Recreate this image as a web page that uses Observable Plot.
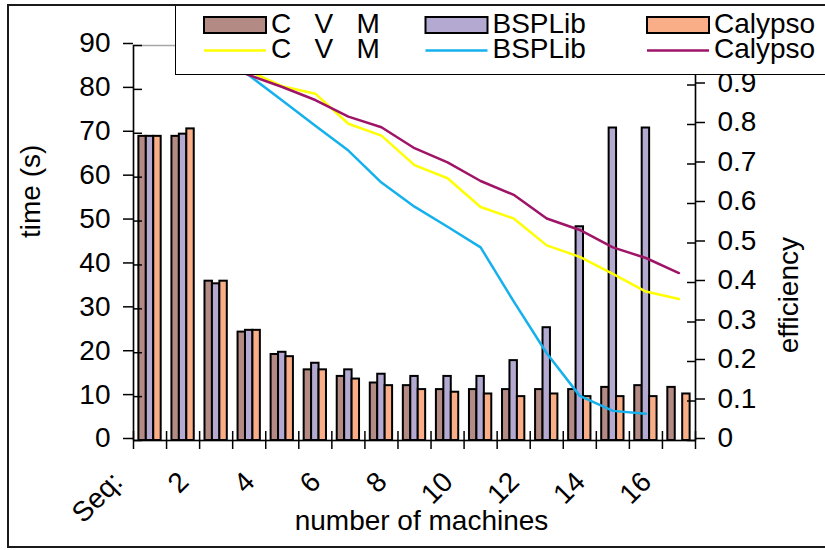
<!DOCTYPE html>
<html><head><meta charset="utf-8">
<script src="https://cdn.jsdelivr.net/npm/d3@7"></script>
<script src="https://cdn.jsdelivr.net/npm/@observablehq/plot@0.6"></script>
<style>
body{margin:0;background:#fff;font-family:"Liberation Sans",Arial,sans-serif}
#wrap{position:relative;width:825px;height:550px;overflow:hidden}
#chart{position:absolute;left:0;top:0}
#legend{position:absolute;left:175px;top:5px;width:700px;height:69px;background:#fff;border-left:1px solid #000;border-bottom:1px solid #000}
#frame{position:absolute;left:7px;top:4px;width:900px;height:540px;border:2px solid #1a1a1a;pointer-events:none}
</style></head><body>
<div id="wrap"><div id="chart"></div><div id="legend"></div><div id="frame"></div></div>
<script>
// ---- data ----
const categories = ["Seq:", "1", "2", "3", "4", "5", "6", "7", "8", "9", "10", "11", "12", "13", "14", "15", "16"];
const shownLabels = ["Seq:", "2", "4", "6", "8", "10", "12", "14", "16"];
const seriesNames = ["C   V   M", "BSPLib", "Calypso"];
const timeCVM = [69.3, 69.3, 36.3, 24.7, 19.6, 16.1, 14.6, 13.1, 12.5, 11.6, 11.6, 11.6, 11.6, 11.6, 12.1, 12.5, 12.1];
const timeBSP = [69.3, 69.8, 35.7, 25.1, 20.1, 17.6, 16.1, 15.1, 14.6, 14.6, 14.6, 18.2, 25.7, 48.7, 71.2, 71.2, null];
const timeCal = [69.3, 71.0, 36.3, 25.1, 19.1, 16.1, 14.0, 12.5, 11.6, 11.0, 10.6, 10.0, 10.6, 10.0, 10.0, 10.0, 10.6];
const effCVM = [null, 1.0, 0.955, 0.935, 0.897, 0.878, 0.802, 0.772, 0.697, 0.664, 0.591, 0.562, 0.494, 0.465, 0.422, 0.377, 0.358];
const effBSP = [null, 0.99, 0.97, 0.924, 0.861, 0.797, 0.734, 0.653, 0.592, 0.541, 0.489, 0.352, 0.221, 0.113, 0.075, 0.068, null];
const effCal = [null, 0.976, 0.955, 0.925, 0.895, 0.862, 0.820, 0.793, 0.740, 0.704, 0.657, 0.622, 0.562, 0.533, 0.489, 0.462, 0.424];
const timeTicks = [0, 10, 20, 30, 40, 50, 60, 70, 80, 90];
const effTicks = [0, 0.1, 0.2, 0.3, 0.4, 0.5, 0.6, 0.7, 0.8, 0.9];
const effTickLabels = ["0", "0.1", "0.2", "0.3", "0.4", "0.5", "0.6", "0.7", "0.8", "0.9"];
const yTitle = "time (s)";
const y2Title = "efficiency";
const xTitle = "number of machines";

// ---- styles ----
const barColors = ["#b48a84", "#b3a9d1", "#f9ae88"];
const lineColors = ["#ffff00", "#15b1ec", "#9e1467"];
const FONT = "Liberation Sans, Arial, sans-serif";
const FS = 28;
const yMax = 90, effMax = 1;
const bw = 0.225;

const times = [timeCVM, timeBSP, timeCal];
const effs = [effCVM, effBSP, effCal];
const effScaled = effTicks.map(v => v * yMax / effMax);
const effLabelMap = new Map(effScaled.map((v, k) => [v, effTickLabels[k]]));

const barMarks = times.map((arr, s) => {
  const rows = arr.map((v, i) => ({i, v})).filter(d => d.v != null);
  return Plot.rect(rows, {
    x1: d => d.i + 0.5 + (s - 1.5) * bw,
    x2: d => d.i + 0.5 + (s - 0.5) * bw,
    y1: d => 0, y2: "v",
    fill: barColors[s], stroke: "#000", strokeWidth: 2
  });
});
const lineMarks = effs.map((arr, s) => {
  const rows = arr.map((e, i) => ({i, e})).filter(d => d.e != null);
  return Plot.line(rows, {x: d => d.i + 0.5, y: d => d.e * yMax / effMax, stroke: lineColors[s], strokeWidth: 2.5});
});
const labelRows = categories.map((c, i) => ({i, c})).filter(d => shownLabels.includes(d.c));
const xTicks = d3.range(categories.length + 1);

const chart = Plot.plot({
  width: 825, height: 550,
  marginLeft: 133, marginRight: 130, marginTop: 45, marginBottom: 110,
  style: {fontFamily: FONT, fontSize: FS + "px", color: "#000", background: "transparent", overflow: "visible"},
  x: {type: "linear", domain: [0, categories.length], axis: null},
  y: {domain: [0, yMax], axis: null},
  marks: [
    Plot.frame({stroke: "#a6a6a6", strokeWidth: 1.5}),
    ...barMarks,
    ...lineMarks,
    Plot.ruleX([0, categories.length], {stroke: "#000", strokeWidth: 1.5}),
    Plot.ruleY([0], {stroke: "#000", strokeWidth: 1.5}),
    // left axis
    Plot.axisY(timeTicks, {anchor: "left", tickSize: 10, tickPadding: 13, fontSize: FS, dy: -2, strokeWidth: 1.5, label: null}),
    Plot.axisY(timeTicks, {anchor: "left", tickSize: 9, dx: 9, fill: "none", strokeWidth: 1.5, label: null}),
    // right axis
    Plot.axisY(effScaled, {anchor: "right", tickSize: 9, tickPadding: 13, fontSize: FS, dy: -2, strokeWidth: 1.5, label: null, tickFormat: d => effLabelMap.get(d)}),
    Plot.axisY(effScaled, {anchor: "right", tickSize: 9, dx: -9, fill: "none", strokeWidth: 1.5, label: null}),
    // x ticks
    Plot.axisX(xTicks, {anchor: "bottom", tickSize: 9, fill: "none", strokeWidth: 1.5, label: null}),
    Plot.axisX(xTicks, {anchor: "bottom", tickSize: 9, dy: -9, fill: "none", strokeWidth: 1.5, label: null}),
    // x labels
    Plot.text(labelRows, {x: d => d.i + 0.5, y: d => 0, text: "c", rotate: -45, textAnchor: "end", lineAnchor: "bottom", dx: -26, dy: 43, fontSize: FS}),
    // titles
    Plot.text([yTitle], {frameAnchor: "left", text: d => d, rotate: -90, lineAnchor: "bottom", dx: -94, dy: -5, fontSize: FS}),
    Plot.text([y2Title], {frameAnchor: "right", text: d => d, rotate: -90, lineAnchor: "bottom", dx: 102, dy: -6, fontSize: FS}),
    Plot.text([xTitle], {frameAnchor: "bottom", text: d => d, lineAnchor: "bottom", dx: 7, dy: 89, fontSize: FS})
  ]
});
document.getElementById("chart").appendChild(chart);

// ---- legend ----
const leg = d3.select("#legend").append("svg").attr("width", 700).attr("height", 69)
  .style("font-family", FONT).style("font-size", FS + "px");
const colX0 = 28, colStep = 221.5, swW = 62, txtOff = 67;
seriesNames.forEach((name, s) => {
  const x = colX0 + s * colStep;
  leg.append("rect").attr("x", x).attr("y", 12).attr("width", swW).attr("height", 16)
    .attr("fill", barColors[s]).attr("stroke", "#000").attr("stroke-width", 2);
  leg.append("text").attr("x", x + txtOff).attr("y", 28).attr("fill", "#000").style("white-space", "pre").text(name);
  leg.append("line").attr("x1", x).attr("x2", x + swW).attr("y1", 45.5).attr("y2", 45.5)
    .attr("stroke", lineColors[s]).attr("stroke-width", 2.5);
  leg.append("text").attr("x", x + txtOff).attr("y", 52.5).attr("fill", "#000").style("white-space", "pre").text(name);
});
</script>
</body></html>
